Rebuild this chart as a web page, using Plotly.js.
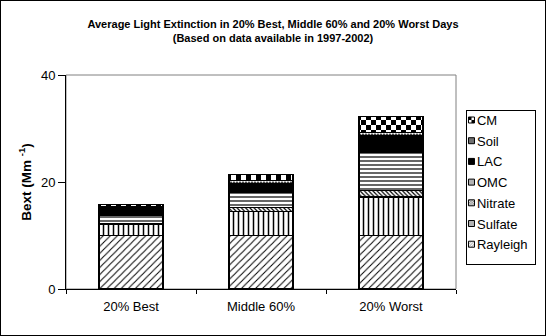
<!DOCTYPE html>
<html>
<head>
<meta charset="utf-8">
<script src="https://cdn.plot.ly/plotly-3.0.1.min.js"></script>
<style>
  html, body { margin: 0; padding: 0; background: #fff; }
  #chart { width: 544px; height: 334px; border: 1px solid #000; }
</style>
</head>
<body>
<div id="chart"></div>
<script>
const categories = ['20% Best', 'Middle 60%', '20% Worst'];
const rayleigh = [10, 10, 10];
const sulfate  = [2.0, 4.5, 7.2];
const nitrate  = [0.3, 0.7, 1.2];
const omc      = [1.4, 2.8, 7.1];
const lac      = [1.5, 1.7, 3.1];
const soil     = [0.2, 0.6, 0.6];
const cm       = [0.4, 1.1, 3.0];

const seriesNames = ['Rayleigh', 'Sulfate', 'Nitrate', 'OMC', 'LAC', 'Soil', 'CM'];
const seriesValues = [rayleigh, sulfate, nitrate, omc, lac, soil, cm];

const patterns = [
  {shape: '/', size: 5, solidity: 0.2, fgcolor: '#000', bgcolor: '#fff'},
  {shape: '|', size: 5, solidity: 0.3, fgcolor: '#000', bgcolor: '#fff'},
  {shape: '\\', size: 3, solidity: 0.4, fgcolor: '#000', bgcolor: '#fff'},
  {shape: '-', size: 4, solidity: 0.3, fgcolor: '#000', bgcolor: '#fff'},
  {shape: '', fgcolor: '#000', bgcolor: '#000'},
  {shape: '.', size: 3, solidity: 0.5, fgcolor: '#fff', bgcolor: '#000'},
  {shape: 'x', size: 6, solidity: 0.5, fgcolor: '#000', bgcolor: '#fff'}
];

const traces = seriesNames.map((name, i) => ({
  type: 'bar',
  name: name,
  x: categories,
  y: seriesValues[i],
  marker: {
    color: i === 4 ? '#000' : '#fff',
    line: {color: '#000', width: 1.3},
    pattern: patterns[i]
  },
  hoverinfo: 'skip'
}));

const FONT = 'Liberation Sans, Arial, sans-serif';

const layout = {
  width: 544, height: 334,
  margin: {l: 65, r: 89, t: 74, b: 46, pad: 0, autoexpand: false},
  paper_bgcolor: '#fff', plot_bgcolor: '#fff',
  font: {family: FONT, size: 13, color: '#000'},
  barmode: 'stack',
  bargap: 0.508,
  showlegend: true,
  title: {
    text: '<b>Average Light Extinction in 20% Best, Middle 60% and 20% Worst Days<br>(Based on data available in 1997-2002)</b>',
    font: {size: 11, family: FONT},
    x: 0.5, xref: 'container', xanchor: 'center',
    y: 0.92, yref: 'container', yanchor: 'middle'
  },
  xaxis: {
    type: 'category',
    showline: true, linecolor: '#000', linewidth: 1,
    ticks: 'outside', ticklen: 4, tickcolor: '#000', tickson: 'boundaries',
    ticklabelstandoff: 5,
    showgrid: false, zeroline: false,
    tickfont: {size: 13},
    fixedrange: true
  },
  yaxis: {
    range: [0, 40], tickvals: [0, 20, 40],
    showline: true, linecolor: '#000', linewidth: 1,
    ticks: 'outside', ticklen: 7, tickcolor: '#000',
    showgrid: false, zeroline: false,
    tickfont: {size: 13},
    title: {text: '<b>Bext (Mm <sup>-1</sup>)</b>', font: {size: 13.5}, standoff: 6},
    fixedrange: true
  },
  shapes: [{
    type: 'rect', xref: 'paper', yref: 'paper', x0: 0, x1: 1, y0: 0, y1: 1,
    line: {color: '#808080', width: 1}, layer: 'below'
  }],
  legend: {
    x: 1.0256, xanchor: 'left', y: 0.8364, yanchor: 'top',
    traceorder: 'reversed',
    bordercolor: '#000', borderwidth: 1, bgcolor: '#fff',
    font: {size: 13},
    itemwidth: 30, tracegroupgap: 0
  }
};

const gd = document.getElementById('chart');
Plotly.newPlot(gd, traces, layout, {displayModeBar: false, staticPlot: true}).then(function () {
  try {
    const NS = 'http://www.w3.org/2000/svg';
    const svg = gd.querySelector('svg.main-svg');
    const defs = svg.querySelector('defs');
    function makeChecker(id, s) {
      const pat = document.createElementNS(NS, 'pattern');
      pat.setAttribute('id', id);
      pat.setAttribute('patternUnits', 'userSpaceOnUse');
      pat.setAttribute('width', 2 * s);
      pat.setAttribute('height', 2 * s);
      [[0, 0, 2 * s, 2 * s, '#fff'], [0, 0, s, s, '#000'], [s, s, s, s, '#000']].forEach(function (r) {
        const rect = document.createElementNS(NS, 'rect');
        rect.setAttribute('x', r[0]); rect.setAttribute('y', r[1]);
        rect.setAttribute('width', r[2]); rect.setAttribute('height', r[3]);
        rect.setAttribute('fill', r[4]);
        pat.appendChild(rect);
      });
      defs.appendChild(pat);
    }
    makeChecker('cmchecker', 5);
    makeChecker('cmcheckerleg', 6);

    const barTraces = gd.querySelectorAll('.barlayer .trace');
    const cmIndex = seriesNames.indexOf('CM');
    if (barTraces[cmIndex]) {
      barTraces[cmIndex].querySelectorAll('path').forEach(function (p) {
        p.style.fill = 'url(#cmchecker)';
      });
    }

    const leg = gd.querySelector('.legend');
    const sb = leg.querySelector('.scrollbox');
    if (sb) sb.removeAttribute('clip-path');
    const items = leg.querySelectorAll('.traces');
    items.forEach(function (g, k) {
      g.setAttribute('transform', 'translate(1,' + (10 + k * 20.7) + ')');
      const t = g.querySelector('.legendtext');
      if (t) {
        t.setAttribute('x', 10);
        t.querySelectorAll('tspan').forEach(function (ts) { if (ts.hasAttribute('x')) ts.setAttribute('x', 10); });
      }
      g.querySelectorAll('.legendpoints path').forEach(function (p) {
        p.setAttribute('transform', 'translate(4.5,0) scale(0.5)');
        p.style.strokeWidth = '2px';
        if (t && t.textContent === 'CM') p.style.fill = 'url(#cmcheckerleg)';
      });
    });
    const bg = leg.querySelector('rect.bg');
    if (bg) { bg.setAttribute('width', 69); bg.setAttribute('height', 154); }
  } catch (e) { console.error(e); }
});
</script>
</body>
</html>
